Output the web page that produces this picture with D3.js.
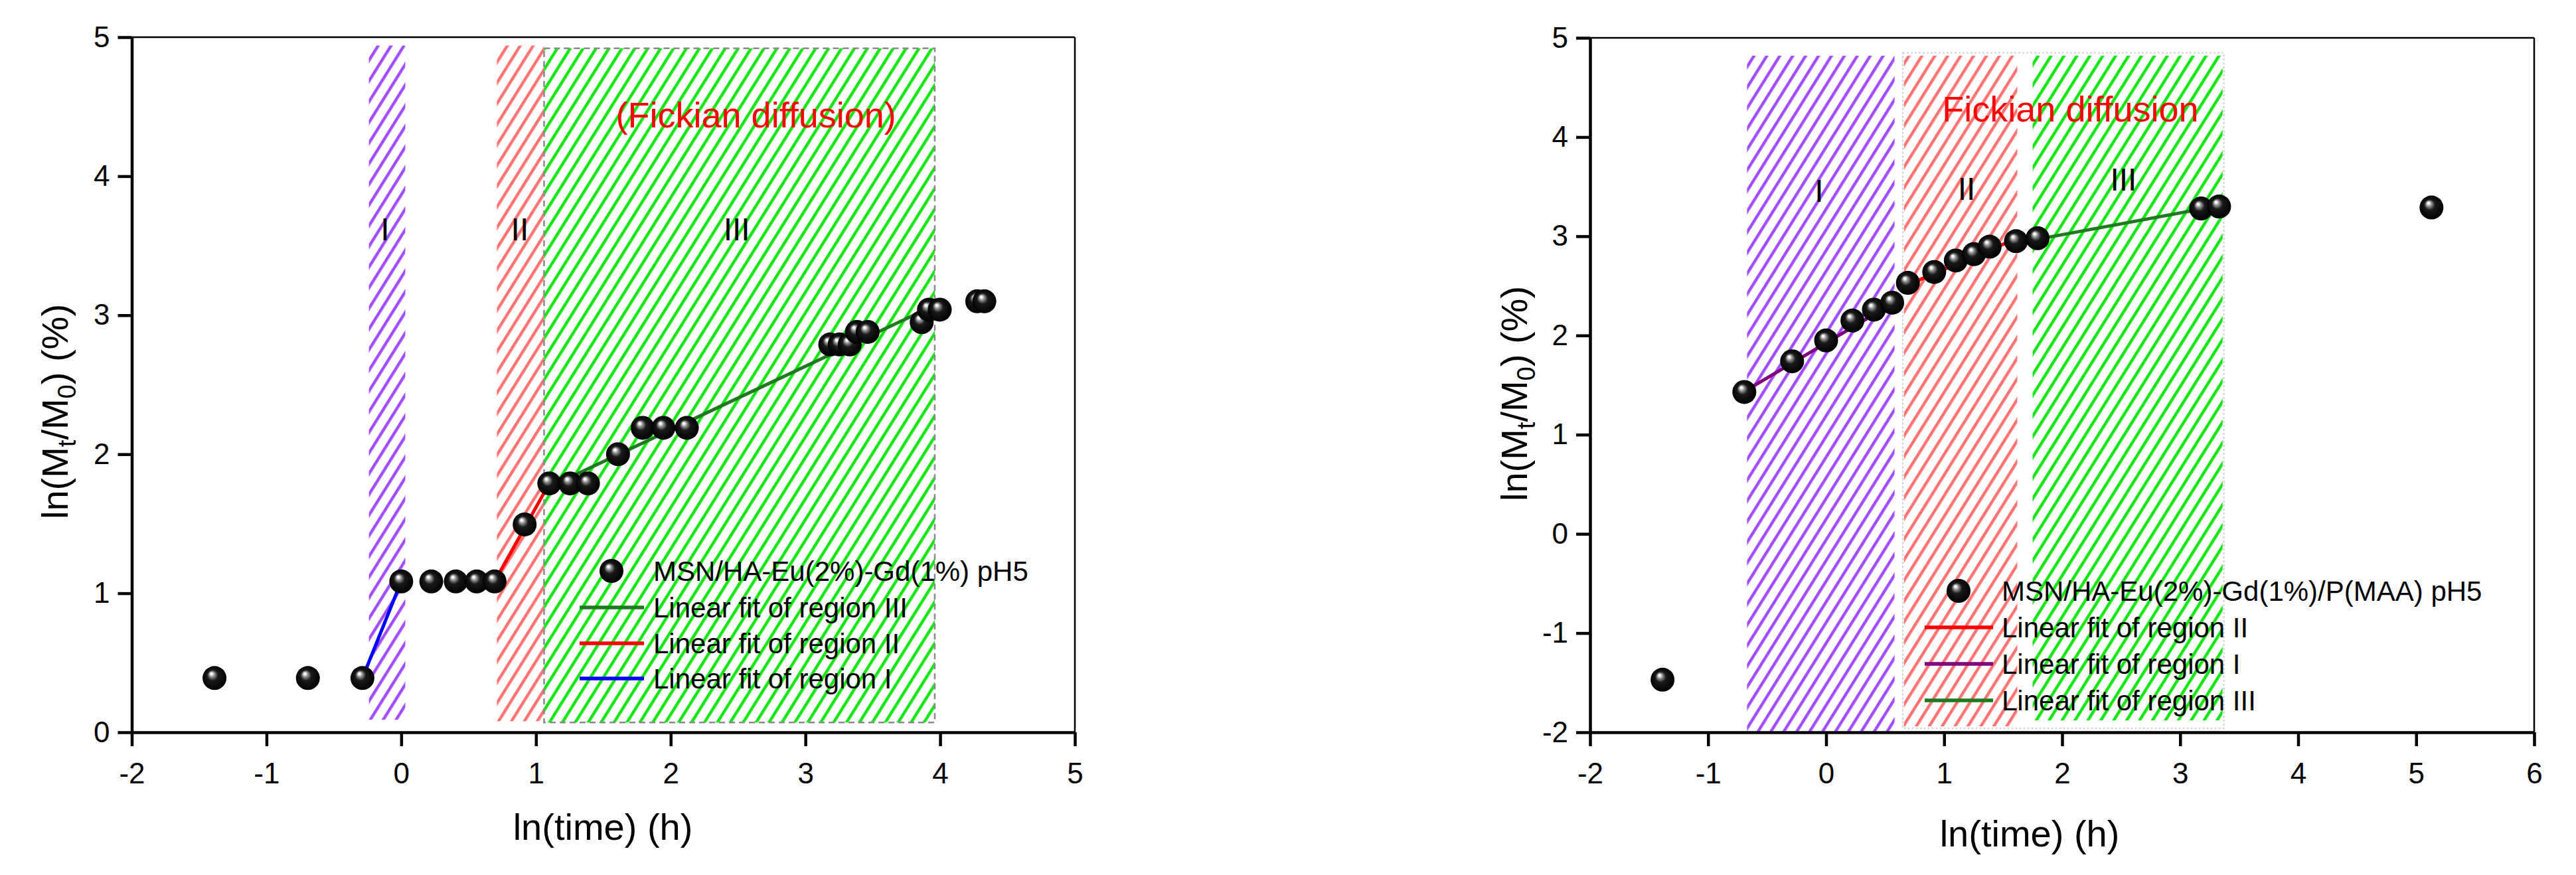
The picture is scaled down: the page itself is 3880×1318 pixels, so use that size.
<!doctype html>
<html lang="en">
<head>
<meta charset="utf-8">
<title>Release kinetics ln-ln plots</title>
<script src="https://cdnjs.cloudflare.com/ajax/libs/d3/7.8.5/d3.min.js"></script>
<style>
  body { margin: 0; background: #fff; overflow: hidden; }
  text { font-family: "Liberation Sans", Arial, sans-serif; }
</style>
</head>
<body>
<script>
// ---- left panel data: MSN/HA-Eu(2%)-Gd(1%) pH5
const leftX = [-1.386, -0.693, -0.288, 0, 0.223, 0.405, 0.56, 0.693, 0.916, 1.099, 1.253, 1.386,
  1.609, 1.792, 1.946, 2.12, 3.184, 3.254, 3.329, 3.382, 3.462, 3.863, 3.917, 3.997, 4.275, 4.328]
const leftY = [0.39, 0.39, 0.39, 1.085, 1.085, 1.085, 1.085, 1.085, 1.495, 1.79, 1.79, 1.79,
  2.0, 2.19, 2.19, 2.19, 2.79, 2.79, 2.79, 2.88, 2.88, 2.95, 3.04, 3.04, 3.10, 3.10]
// fit segments [x0, y0, x1, y1, colour]
const leftFits = [
  [-0.288, 0.39, 0, 1.085, "#0000ff"],
  [0.693, 1.085, 1.099, 1.79, "#ff0000"],
  [1.09, 1.76, 4.0, 3.09, "#1f7a1f"]
]
// hatched regions [x0, x1, y0, y1, pattern]
const leftRegions = [
  [-0.24, 0.03, 0.09, 4.94, "hPurple"],
  [0.71, 1.06, 0.08, 4.94, "hRed"],
  [1.06, 3.96, 0.07, 4.92, "hGreen"]
]
const leftLabels = [["I", -0.12, 3.54], ["II", 0.88, 3.54], ["III", 2.49, 3.54]]
const leftLegend = ["MSN/HA-Eu(2%)-Gd(1%) pH5", "Linear fit of region III", "Linear fit of region II", "Linear fit of region I"]
const leftLegendColors = ["#1f7a1f", "#ff0000", "#0000ff"]

// ---- right panel data: MSN/HA-Eu(2%)-Gd(1%)/P(MAA) pH5
const rightX = [-1.386, -0.693, -0.288, 0, 0.223, 0.405, 0.56, 0.693, 0.916, 1.099, 1.253, 1.386,
  1.609, 1.792, 3.178, 3.33, 5.13]
const rightY = [-1.47, 1.43, 1.74, 1.95, 2.15, 2.26, 2.33, 2.53, 2.64, 2.755, 2.82, 2.895,
  2.95, 2.98, 3.28, 3.30, 3.29]
const rightFits = [
  [-0.70, 1.43, 0.56, 2.32, "#800080"],
  [0.69, 2.51, 1.60, 2.97, "#ff0000"],
  [1.79, 2.97, 3.34, 3.31, "#1f7a1f"]
]
const rightRegions = [
  [-0.67, 0.58, -1.99, 4.82, "hPurple"],
  [0.66, 1.62, -1.94, 4.82, "hRed"],
  [1.75, 3.36, -1.88, 4.82, "hGreen"]
]
const rightLabels = [["I", -0.06, 3.35], ["II", 1.19, 3.37], ["III", 2.52, 3.46]]
const rightLegend = ["MSN/HA-Eu(2%)-Gd(1%)/P(MAA) pH5", "Linear fit of region II", "Linear fit of region I", "Linear fit of region III"]
const rightLegendColors = ["#ff0000", "#800080", "#1f7a1f"]

const svg = d3.select("body").append("svg")
  .attr("width", 3880).attr("height", 1318)
  .attr("xmlns", "http://www.w3.org/2000/svg")

svg.append("rect").attr("width", 3880).attr("height", 1318).attr("fill", "#fff")

const defs = svg.append("defs")

function hatch(id, color) {
  const p = defs.append("pattern").attr("id", id)
    .attr("patternUnits", "userSpaceOnUse")
    .attr("width", 16.5).attr("height", 16.5)
    .attr("patternTransform", "rotate(32)")
  p.append("line").attr("x1", 8).attr("x2", 8).attr("y1", -2).attr("y2", 20)
    .attr("stroke", color).attr("stroke-width", 4.5)
}
hatch("hPurple", "#a24cff")
hatch("hRed", "#ff7272")
hatch("hGreen", "#11e611")

const grad = defs.append("radialGradient").attr("id", "ball")
  .attr("cx", 0.5).attr("cy", 0.5).attr("r", 0.5).attr("fx", 0.36).attr("fy", 0.3)
;[[0, "#ffffff"], [0.1, "#f0f0f0"], [0.2, "#a0a0a0"], [0.3, "#6a6a6a"], [0.45, "#1a1a1a"], [1, "#000000"]]
  .forEach(s => grad.append("stop").attr("offset", s[0]).attr("stop-color", s[1]))

function panel(cfg) {
  const x = d3.scaleLinear().domain(cfg.xDomain).range([cfg.left, cfg.right])
  const y = d3.scaleLinear().domain(cfg.yDomain).range([cfg.bottom, cfg.top])
  const g = svg.append("g")

  // hatched regions
  g.selectAll("rect.region").data(cfg.regions).join("rect")
    .attr("class", "region")
    .attr("x", d => x(d[0])).attr("width", d => x(d[1]) - x(d[0]))
    .attr("y", d => y(d[3])).attr("height", d => y(d[2]) - y(d[3]))
    .attr("fill", d => `url(#${d[4]})`)

  if (cfg.box) {
    const b = cfg.box
    g.append("rect")
      .attr("x", x(b[0])).attr("width", x(b[1]) - x(b[0]))
      .attr("y", y(b[3])).attr("height", y(b[2]) - y(b[3]))
      .attr("fill", "none").attr("stroke", b[4]).attr("stroke-width", b[5])
      .attr("stroke-dasharray", b[6])
  }

  // region labels
  g.selectAll("text.rlab").data(cfg.labels).join("text")
    .attr("class", "rlab")
    .attr("x", d => x(d[1])).attr("y", d => y(d[2]))
    .attr("text-anchor", "middle").attr("font-size", 48).text(d => d[0])

  g.append("text").attr("x", x(cfg.fick[1])).attr("y", y(cfg.fick[2]))
    .attr("text-anchor", "middle").attr("font-size", 54).attr("fill", "#ff0000")
    .text(cfg.fick[0])

  // fit lines
  g.selectAll("line.fit").data(cfg.fits).join("line")
    .attr("class", "fit")
    .attr("x1", d => x(d[0])).attr("y1", d => y(d[1]))
    .attr("x2", d => x(d[2])).attr("y2", d => y(d[3]))
    .attr("stroke", d => d[4]).attr("stroke-width", 5)

  // points
  g.selectAll("circle.pt").data(cfg.xs.map((v, i) => [v, cfg.ys[i]])).join("circle")
    .attr("class", "pt")
    .attr("cx", d => x(d[0])).attr("cy", d => y(d[1])).attr("r", 18)
    .attr("fill", "url(#ball)")

  // axes
  const fmt = d => String(d)
  const xAxis = d3.axisBottom(x).tickValues(cfg.xTicks).tickFormat(fmt).tickSize(21).tickSizeOuter(0).tickPadding(14)
  const yAxis = d3.axisLeft(y).tickValues(cfg.yTicks).tickFormat(fmt).tickSize(21).tickSizeOuter(0).tickPadding(12)
  const gx = g.append("g").attr("transform", `translate(0,${cfg.bottom})`).call(xAxis)
  const gy = g.append("g").attr("transform", `translate(${cfg.left},0)`).call(yAxis)
  ;[gx, gy].forEach(a => {
    a.select(".domain").attr("stroke-width", 4.5)
    a.selectAll(".tick line").attr("stroke-width", 4.5)
    a.selectAll(".tick text").attr("font-size", 44).attr("font-family", "Liberation Sans, Arial, sans-serif")
  })
  gx.selectAll(".tick text").attr("dy", "0.95em")
  // frame top/right
  g.append("line").attr("x1", cfg.left).attr("x2", cfg.right).attr("y1", cfg.top).attr("y2", cfg.top)
    .attr("stroke", "#000").attr("stroke-width", 2.5)
  g.append("line").attr("x1", cfg.right).attr("x2", cfg.right).attr("y1", cfg.top).attr("y2", cfg.bottom)
    .attr("stroke", "#000").attr("stroke-width", 2.5)

  // axis titles
  g.append("text").attr("x", cfg.xTitle[0]).attr("y", cfg.xTitle[1])
    .attr("text-anchor", "middle").attr("font-size", 56).text("ln(time) (h)")
  const yt = g.append("text")
    .attr("transform", `translate(${cfg.yTitle[0]},${cfg.yTitle[1]}) rotate(-90)`)
    .attr("text-anchor", "middle").attr("font-size", 56)
  yt.append("tspan").text("ln(M")
  yt.append("tspan").attr("font-size", 38).attr("dy", 12).text("t")
  yt.append("tspan").attr("dy", -12).text("/M")
  yt.append("tspan").attr("font-size", 38).attr("dy", 12).text("0")
  yt.append("tspan").attr("dy", -12).text(") (%)")

  // legend
  const lg = cfg.legend
  g.append("circle").attr("cx", lg.sym[0]).attr("cy", lg.sym[1]).attr("r", 18).attr("fill", "url(#ball)")
  g.selectAll("text.leg").data(cfg.legendText).join("text")
    .attr("class", "leg")
    .attr("x", lg.textX).attr("y", (d, i) => lg.rows[i] + 15)
    .attr("font-size", 42).text(d => d)
  g.selectAll("line.leg").data(cfg.legendColors).join("line")
    .attr("class", "leg")
    .attr("x1", lg.line[0]).attr("x2", lg.line[1])
    .attr("y1", (d, i) => lg.rows[i + 1]).attr("y2", (d, i) => lg.rows[i + 1])
    .attr("stroke", d => d).attr("stroke-width", 5.5)
}

panel({
  xDomain: [-2, 5], yDomain: [0, 5], left: 198.5, right: 1619, top: 56, bottom: 1103,
  xTicks: d3.range(-2, 6), yTicks: d3.range(0, 6),
  xs: leftX, ys: leftY, fits: leftFits, regions: leftRegions, labels: leftLabels,
  box: [1.06, 3.96, 0.07, 4.92, "#8a8a8a", 2.5, "9,6"],
  fick: ["(Fickian diffusion)", 2.633, 4.35],
  xTitle: [908, 1265], yTitle: [102, 620],
  legend: { sym: [921, 860], textX: 984, rows: [860, 915, 969, 1022], line: [873, 970] },
  legendText: leftLegend, legendColors: leftLegendColors
})

panel({
  xDomain: [-2, 6], yDomain: [-2, 5], left: 2395, right: 3817, top: 57, bottom: 1103,
  xTicks: d3.range(-2, 7), yTicks: d3.range(-2, 6),
  xs: rightX, ys: rightY, fits: rightFits, regions: rightRegions, labels: rightLabels,
  box: [0.65, 3.37, -1.96, 4.85, "#cfcfcf", 2, "3,3"],
  fick: ["Fickian diffusion", 2.07, 4.155],
  xTitle: [3057, 1275], yTitle: [2300, 593],
  legend: { sym: [2950, 890], textX: 3015, rows: [890, 945, 1000, 1055], line: [2899, 3002] },
  legendText: rightLegend, legendColors: rightLegendColors
})
</script>
</body>
</html>
